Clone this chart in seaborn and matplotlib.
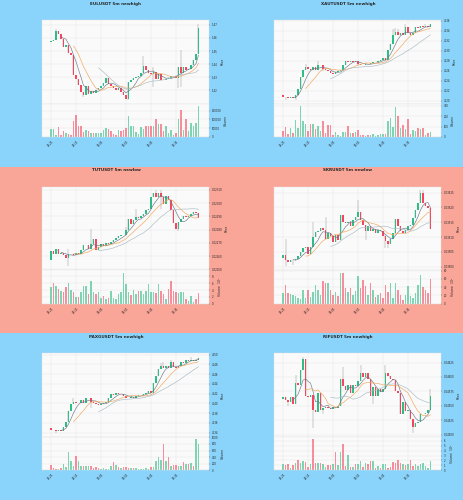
import matplotlib
matplotlib.use("Agg")
import matplotlib.pyplot as plt
import matplotlib.ticker as mticker
from matplotlib.patches import Rectangle
import numpy as np
import pandas as pd
import seaborn as sns

# shared 5m time axis (tick every 10 bars)
tick_labels = ["03:25", "04:15", "05:05", "05:55", "06:45", "07:35"]

# ---- EULUSDT ----
eul_open0 = 1.4572
eul_close = [1.4580, 1.4585, 1.4654, 1.4628, 1.4590, 1.4534, 1.4546, 1.4482, 1.4470, 1.4316,
             1.4290, 1.4239, 1.4188, 1.4162, 1.4232, 1.4170, 1.4196, 1.4180, 1.4201, 1.4216,
             1.4237, 1.4257, 1.4293, 1.4252, 1.4237, 1.4221, 1.4201, 1.4216, 1.4188, 1.4168,
             1.4137, 1.4265, 1.4283, 1.4298, 1.4303, 1.4313, 1.4334, 1.4385, 1.4354, 1.4334,
             1.4324, 1.4339, 1.4288, 1.4324, 1.4283, 1.4278, 1.4288, 1.4298, 1.4308, 1.4313,
             1.4298, 1.4380, 1.4334, 1.4375, 1.4354, 1.4367, 1.4393, 1.4431, 1.4477, 1.4674]
eul_high = {2: 1.4667, 37: 1.4462, 41: 1.4380, 52: 1.4508, 59: 1.4708}
eul_low = {13: 1.4150, 31: 1.4129, 41: 1.4226, 51: 1.4221, 52: 1.4226}
eul_vol = [44000, 48000, 13000, 56000, 13000, 33000, 25000, 19000, 13000, 92000,
           125000, 62000, 62000, 29000, 42000, 33000, 23000, 23000, 23000, 23000,
           23000, 38000, 52000, 48000, 35000, 19000, 10000, 38000, 33000, 38000,
           50000, 121000, 62000, 63000, 29000, 19000, 58000, 48000, 62000, 62000,
           62000, 62000, 100000, 73000, 77000, 35000, 63000, 23000, 38000, 13000,
           23000, 102000, 154000, 42000, 102000, 33000, 81000, 62000, 81000, 177000]

# ---- XAUTUSDT ----
xaut_open0 = 4121.1
xaut_close = [4120.8, 4120.7, 4120.5, 4120.7, 4120.5, 4121.2, 4122.4, 4124.7, 4126.1, 4126.7,
              4126.4, 4126.1, 4126.7, 4126.1, 4127.1, 4127.2, 4126.3, 4126.1, 4125.9, 4125.5,
              4125.4, 4125.7, 4125.9, 4126.2, 4127.1, 4127.9, 4127.7, 4127.9, 4127.8, 4127.9,
              4127.4, 4127.2, 4127.1, 4127.4, 4127.3, 4127.5, 4127.7, 4127.7, 4127.9, 4128.2,
              4128.6, 4128.2, 4130.1, 4131.4, 4133.1, 4133.8, 4133.1, 4133.5, 4133.2, 4134.8,
              4133.5, 4133.2, 4133.6, 4134.7, 4134.5, 4134.9, 4134.8, 4134.9, 4134.8, 4135.3]
xaut_high = {9: 4127.3, 14: 4127.9, 44: 4134.3, 45: 4134.6, 46: 4134.4, 49: 4135.4, 57: 4135.4}
xaut_low = {1: 4120.2, 5: 4120.2, 16: 4125.9, 30: 4127.0}
xaut_vol = [55, 97, 32, 87, 39, 162, 87, 297, 152, 120, 55, 120, 123, 74, 103, 55, 152, 39, 113, 113,
            16, 48, 16, 6, 48, 48, 103, 39, 42, 45, 71, 23, 23, 6, 23, 16, 29, 6, 23, 26,
            26, 26, 152, 178, 97, 291, 203, 87, 113, 81, 171, 32, 65, 55, 87, 81, 87, 23, 42, 48]

# ---- TUTUSDT ----
tut_open0 = 0.022572
tut_close = [0.022638, 0.022618, 0.022655, 0.022612, 0.022623, 0.022605, 0.022587, 0.022612, 0.022618, 0.022605,
             0.022623, 0.022612, 0.022643, 0.022680, 0.022680, 0.022655, 0.022688, 0.022731, 0.022648, 0.022668,
             0.022688, 0.022678, 0.022698, 0.022693, 0.022703, 0.022723, 0.022738, 0.022748, 0.022756, 0.022761,
             0.022798, 0.022881, 0.022844, 0.022874, 0.022894, 0.022889, 0.022899, 0.022919, 0.022949, 0.022957,
             0.023045, 0.023075, 0.023045, 0.023075, 0.023045, 0.022994, 0.023050, 0.023020, 0.022944, 0.022849,
             0.022806, 0.022856, 0.022881, 0.022899, 0.022894, 0.022906, 0.022919, 0.022932, 0.022924, 0.022889]
tut_high = {7: 0.022655, 16: 0.022806, 30: 0.022820, 34: 0.022957, 42: 0.023095, 44: 0.023095}
tut_low = {7: 0.022522, 44: 0.022957, 51: 0.022788}
tut_vol_1e7 = [4.95, 6.2, 5.2, 4.3, 3.6, 3.3, 4.8, 6.0, 4.1, 3.3, 2.0, 2.0, 3.3, 5.2, 5.2, 2.8, 6.7, 3.3, 2.8, 3.3,
               1.6, 2.3, 1.4, 1.6, 3.8, 1.8, 1.4, 2.8, 3.5, 9.1, 5.7, 3.3, 2.5, 4.1, 2.8, 3.8, 3.8, 2.8, 3.8, 5.7,
               3.3, 3.3, 3.0, 5.7, 3.8, 2.8, 1.4, 4.3, 6.7, 3.8, 3.5, 3.1, 3.3, 3.3, 1.4, 0.9, 2.3, 0.6, 1.4, 3.1]

# ---- SKRUSDT ----
skr_open0 = 0.035029
skr_close = [0.035040, 0.035021, 0.035016, 0.035021, 0.035024, 0.035027, 0.035035, 0.035048, 0.035062, 0.035065,
             0.035044, 0.035068, 0.035099, 0.035118, 0.035119, 0.035129, 0.035124, 0.035093, 0.035113, 0.035102,
             0.035082, 0.035108, 0.035089, 0.035175, 0.035152, 0.035147, 0.035149, 0.035136, 0.035158, 0.035167,
             0.035186, 0.035158, 0.035141, 0.035121, 0.035138, 0.035119, 0.035127, 0.035115, 0.035124, 0.035119,
             0.035102, 0.035085, 0.035077, 0.035093, 0.035113, 0.035160, 0.035136, 0.035119, 0.035113, 0.035122,
             0.035136, 0.035140, 0.035164, 0.035190, 0.035214, 0.035248, 0.035216, 0.035205, 0.035197, 0.035127]
skr_high = {1: 0.035092, 12: 0.035150, 17: 0.035169, 30: 0.035225, 41: 0.035110, 55: 0.035257, 56: 0.035257}
skr_low = {1: 0.035001, 4: 0.035007, 33: 0.035090, 41: 0.035063, 42: 0.035063}
skr_vol_1e4 = [25, 46, 25, 23, 22, 18, 14, 11, 33, 13, 33, 15, 29, 45, 34, 22, 54, 50, 50, 34,
               21, 29, 19, 75, 74, 37, 29, 37, 21, 30, 66, 37, 58, 42, 22, 49, 34, 17, 21, 26,
               14, 46, 27, 51, 13, 50, 33, 22, 10, 22, 42, 18, 13, 26, 46, 70, 41, 33, 25, 59]

# ---- PAXGUSDT ----
paxg_open0 = 4135.0
paxg_close = [4134.6, 4134.5, 4134.3, 4134.5, 4134.3, 4135.2, 4136.2, 4138.5, 4139.9, 4140.3,
              4140.0, 4140.1, 4140.7, 4140.1, 4141.0, 4141.2, 4140.3, 4140.0, 4139.9, 4139.7,
              4139.9, 4140.0, 4140.3, 4141.0, 4141.9, 4141.8, 4142.1, 4141.9, 4141.9, 4141.5,
              4141.2, 4141.0, 4141.4, 4141.2, 4141.5, 4141.7, 4141.8, 4141.9, 4142.2, 4142.6,
              4142.2, 4144.1, 4145.7, 4147.0, 4147.7, 4147.3, 4147.6, 4147.3, 4148.6, 4147.4,
              4147.2, 4147.7, 4148.6, 4148.3, 4149.0, 4148.8, 4149.0, 4148.8, 4149.0, 4149.3]
paxg_high = {9: 4141.0, 44: 4148.2, 45: 4148.4, 48: 4149.0, 56: 4149.5}
paxg_low = {2: 4133.9, 16: 4139.0}
paxg_vol = [170, 70, 40, 50, 70, 190, 90, 570, 270, 140, 440, 290, 120, 120, 120, 120, 120, 70, 90, 70,
            40, 70, 40, 40, 120, 240, 170, 100, 70, 90, 90, 70, 70, 80, 70, 40, 40, 40, 60, 50,
            90, 90, 270, 390, 320, 790, 270, 390, 120, 150, 150, 140, 140, 240, 190, 190, 220, 120, 940, 790]

# ---- RIFUSDT ----
rif_open0 = 0.045619
rif_close = [0.045660, 0.045601, 0.045560, 0.045649, 0.045531, 0.045896, 0.045855, 0.046120, 0.046309, 0.045678,
             0.045660, 0.045696, 0.045425, 0.045401, 0.045719, 0.045425, 0.045460, 0.045484, 0.045460, 0.045442,
             0.045484, 0.045460, 0.045501, 0.045973, 0.045837, 0.045778, 0.045855, 0.045719, 0.045855, 0.045837,
             0.045932, 0.046073, 0.046002, 0.046073, 0.045973, 0.045678, 0.045826, 0.045678, 0.045796, 0.045737,
             0.045796, 0.046061, 0.046014, 0.045973, 0.045943, 0.045755, 0.045719, 0.045354, 0.045560, 0.045413,
             0.045425, 0.045265, 0.045130, 0.045206, 0.045224, 0.045354, 0.045366, 0.045383, 0.045425, 0.045678]
rif_high = {5: 0.046032, 8: 0.046344, 24: 0.046179, 31: 0.046209, 41: 0.046209, 59: 0.045796}
rif_low = {2: 0.045501, 12: 0.045118, 16: 0.045354, 36: 0.045531, 52: 0.045029}
rif_vol_1e6 = [1.3, 1.0, 1.2, 0.5, 1.0, 1.5, 2.0, 1.4, 1.9, 1.7, 0.7, 1.2, 6.3, 1.5, 1.4, 1.5, 1.3, 0.7, 1.0, 1.0,
               1.3, 3.8, 1.0, 3.8, 5.4, 0.8, 3.1, 0.6, 0.6, 1.2, 1.2, 1.9, 0.7, 1.4, 1.3, 1.9, 1.9, 0.5, 0.8, 0.5,
               1.3, 1.2, 0.5, 0.6, 1.7, 1.5, 2.0, 1.5, 1.2, 1.0, 1.2, 2.0, 0.8, 1.2, 0.8, 1.3, 1.5, 0.8, 0.5, 1.9]

UP, DOWN = "#2ebd85", "#f6465d"
MA_COLORS = ["#6f7888", "#f2a65a", "#a9bcc4"]
BLUE_BG, RED_BG = "#8ad4fc", "#f9a598"

sns.set_theme(style="whitegrid", rc={
    "axes.facecolor": "#fafafa",
    "grid.color": "#e4e4e4",
    "grid.linewidth": 0.3,
    "axes.edgecolor": "#e2e2e2",
    "axes.linewidth": 0.3,
})
plt.rcParams["font.family"] = ["DejaVu Sans"]

W, H = 464, 500
fig = plt.figure(figsize=(W / 100, H / 100), dpi=100, facecolor=BLUE_BG)
for r, c in enumerate([BLUE_BG, RED_BG, BLUE_BG]):
    fig.patches.append(Rectangle((0, 1 - (r + 1) / 3), 1, 1 / 3, transform=fig.transFigure,
                                 facecolor=c, edgecolor="none", zorder=-10))


def draw_panel(col, row, title, open0, close, high, low, vol, vol_label, p_step, p_fmt, v_step):
    x0 = col * 232
    y0 = row * H / 3
    ax = fig.add_axes([(x0 + 42) / W, 1 - (y0 + 103.5) / H, 167 / W, 83.5 / H])
    axv = fig.add_axes([(x0 + 42) / W, 1 - (y0 + 137) / H, 167 / W, 33.5 / H], sharex=ax)

    df = pd.DataFrame({"open": [open0] + close[:-1], "close": close, "vol": vol})
    df["high"] = df[["open", "close"]].max(axis=1)
    df["low"] = df[["open", "close"]].min(axis=1)
    for i, v in high.items():
        df.loc[i, "high"] = v
    for i, v in low.items():
        df.loc[i, "low"] = v
    x = np.arange(len(df))
    up = df["close"] >= df["open"]
    colors = np.where(up, UP, DOWN)
    span = df["high"].max() - df["low"].min()

    # candles
    ax.vlines(x, df["low"], df["high"], color="#969696", lw=0.35, zorder=2)
    body = np.maximum((df["close"] - df["open"]).abs(), span * 0.004)
    ax.bar(x, body, bottom=df[["open", "close"]].min(axis=1), width=0.66,
           color=colors, linewidth=0, zorder=3)

    # moving averages
    for w, c in zip((5, 10, 20), MA_COLORS):
        ma = df["close"].rolling(w).mean()
        ok = ma.notna()
        sns.lineplot(x=x[ok], y=ma[ok].values, ax=ax, color=c, lw=0.45, zorder=4, errorbar=None)

    # volume
    axv.bar(x, df["vol"], width=0.66, color=colors, alpha=0.6, linewidth=0)

    ax.set_xlim(-3.6, 63.2)
    pad = span * 0.05
    ax.set_ylim(df["low"].min() - pad, df["high"].max() + pad)
    axv.set_ylim(0, df["vol"].max() * 1.08)

    for a in (ax, axv):
        a.yaxis.tick_right()
        a.yaxis.set_label_position("right")
        a.tick_params(axis="y", labelsize=1.9, length=1, width=0.3, pad=1)
        a.grid(True, lw=0.3)
    ax.yaxis.set_major_locator(mticker.MultipleLocator(p_step))
    ax.yaxis.set_major_formatter(mticker.FormatStrFormatter(p_fmt))
    axv.yaxis.set_major_locator(mticker.MultipleLocator(v_step))
    axv.yaxis.set_major_formatter(mticker.FormatStrFormatter("%g"))
    ax.set_ylabel("Price", fontsize=2.2, labelpad=2)
    axv.set_ylabel(vol_label, fontsize=2.2, labelpad=2)

    axv.set_xticks(range(0, 60, 10))
    axv.set_xticklabels(tick_labels, rotation=45, fontsize=1.9)
    ax.tick_params(axis="x", labelbottom=False, length=0)
    axv.tick_params(axis="x", length=1, width=0.3, pad=1)

    fig.text((x0 + 116) / W, 1 - (y0 + 3.5) / H, title, ha="center", va="center",
             fontsize=3.0, fontweight="bold")


draw_panel(0, 0, "EULUSDT 5m newhigh", eul_open0, eul_close, eul_high, eul_low, eul_vol,
           "Volume", 0.01, "%.2f", 50000)
draw_panel(1, 0, "XAUTUSDT 5m newhigh", xaut_open0, xaut_close, xaut_high, xaut_low, xaut_vol,
           "Volume", 2, "%.0f", 100)
draw_panel(0, 1, "TUTUSDT 5m newlow", tut_open0, tut_close, tut_high, tut_low, tut_vol_1e7,
           "Volume  $10^{7}$", 0.0001, "%.5f", 2)
draw_panel(1, 1, "SKRUSDT 5m newlow", skr_open0, skr_close, skr_high, skr_low, skr_vol_1e4,
           "Volume  $10^{4}$", 0.00005, "%.5f", 20)
draw_panel(0, 2, "PAXGUSDT 5m newhigh", paxg_open0, paxg_close, paxg_high, paxg_low, paxg_vol,
           "Volume", 2, "%.0f", 200)
draw_panel(1, 2, "RIFUSDT 5m newhigh", rif_open0, rif_close, rif_high, rif_low, rif_vol_1e6,
           "Volume  $10^{6}$", 0.00025, "%.5f", 1)

fig.savefig("out.png", dpi=100, facecolor=fig.get_facecolor())
